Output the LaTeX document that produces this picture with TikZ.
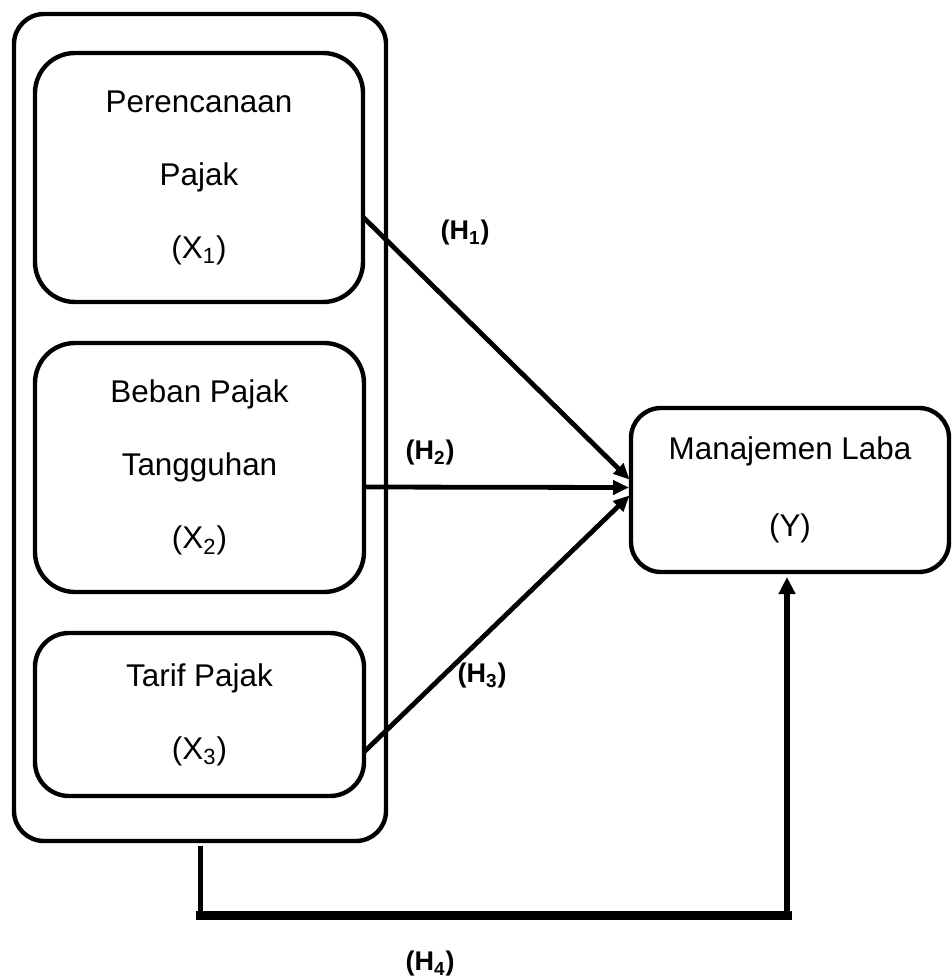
\documentclass[tikz,border=0pt]{standalone}
\usepackage{fontspec}
\setmainfont{Liberation Sans}
\usetikzlibrary{arrows.meta}
\begin{document}
\begin{tikzpicture}[x=0.5pt,y=-0.5pt,
  varbox/.style={draw, line width=2.2pt, rounded corners=20pt, inner sep=0pt, outer sep=0pt,
    align=center, font=\fontsize{15.7pt}{36.5pt}\selectfont},
  outerbox/.style={draw, line width=2.2pt, rounded corners=15pt, inner sep=0pt, outer sep=0pt},
  hyp/.style={font=\bfseries\fontsize{13.5pt}{16pt}\selectfont, inner sep=0pt},
  harrow/.style={line width=2.4pt, -{Triangle[length=8pt,width=7pt]}, shorten >=1pt}
]
\useasboundingbox (0,0) rectangle (952,979);
% outer group box
\node[outerbox, minimum width=186pt, minimum height=413.5pt] (outer) at (200,427.5) {};
% variable boxes
\node[varbox, minimum width=164pt, minimum height=124.5pt] (x1) at (199,177.5)
  {Perencanaan\\Pajak\\(X\textsubscript{1})};
\node[varbox, minimum width=164.5pt, minimum height=124.5pt] (x2) at (199.5,467.5)
  {Beban Pajak\\Tangguhan\\(X\textsubscript{2})};
\node[varbox, rounded corners=17pt, minimum width=164.5pt, minimum height=81.5pt] (x3) at (199.5,714.5)
  {Tarif Pajak\\(X\textsubscript{3})};
\node[varbox, rounded corners=15pt, minimum width=159pt, minimum height=82pt,
  font=\fontsize{15.7pt}{38.5pt}\selectfont] (y) at (790,490)
  {Manajemen Laba\\(Y)};
% hypothesis arrows
\draw[harrow] ([yshift=-19.75pt]x1.east) -- ([yshift=4.5pt]y.west);
\draw[harrow] ([yshift=-9.75pt]x2.east) -- ([yshift=1.25pt]y.west);
\draw[harrow] ([yshift=-18.75pt]x3.east) -- ([yshift=-2pt]y.west);
% H4 connector
\coordinate (c1) at (200,915);
\coordinate (c2) at (787,915);
\draw[line width=2.5pt] ([yshift=-2.5pt]outer.south) -- (c1);
\draw[line width=4.5pt, line cap=rect] (c1) -- (c2);
\draw[line width=3.4pt, -{Triangle[length=8.5pt,width=8pt]}, shorten >=2.5pt] (c2) -- ([xshift=-1.5pt]y.south);
% labels
\node[hyp] (h1) at (465,233) {(H\textsubscript{1})};
\node[hyp] (h2) at (430,453) {(H\textsubscript{2})};
\node[hyp] (h3) at (482,676) {(H\textsubscript{3})};
\node[hyp] (h4) at (430,964) {(H\textsubscript{4})};
\end{tikzpicture}
\end{document}
